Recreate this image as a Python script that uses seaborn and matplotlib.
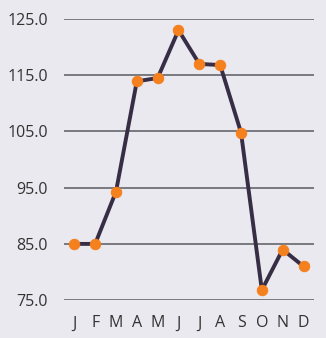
import matplotlib
matplotlib.use("Agg")
import matplotlib.pyplot as plt
import seaborn as sns
import pandas as pd
import numpy as np

months = ["J", "F", "M", "A", "M", "J", "J", "A", "S", "O", "N", "D"]
values = [85.0, 85.0, 94.3, 113.9, 114.5, 123.0, 117.0, 116.8, 104.8, 76.8, 84.0, 81.0]
yticks = [75.0, 85.0, 95.0, 105.0, 115.0, 125.0]

sns.set_style("white")
plt.rcParams['font.family'] = ['Open Sans', 'DejaVu Sans']

bg = "#e9e9ef"
fig = plt.figure(figsize=(3.26, 3.38), dpi=100, facecolor=bg)
ax = fig.add_axes([0.196, 0.112, 0.767, 0.832], facecolor=bg)

df = pd.DataFrame({"idx": np.arange(len(months)), "value": values})
sns.lineplot(data=df, x="idx", y="value", ax=ax, color="#372d45", linewidth=2.8,
             marker="o", markersize=7.5, markerfacecolor="#f5801e",
             markeredgecolor="#f5801e", sort=False, zorder=3, clip_on=False)

ax.set_xlim(-0.5, len(months) - 0.5)
ax.set_ylim(75, 125)
ax.set_yticks(yticks)
ax.set_yticklabels([f"{v:.1f}" for v in yticks])
ax.set_xticks(np.arange(len(months)))
ax.set_xticklabels(months)
for y in yticks:
    ax.axhline(y, color="#5a5a62", linewidth=1.1, zorder=1)
for s in ax.spines.values():
    s.set_visible(False)
ax.tick_params(axis="both", length=0, labelsize=11.5, colors="#333333")
ax.tick_params(axis="y", pad=11.5)
ax.tick_params(axis="x", pad=11)
ax.set_xlabel("")
ax.set_ylabel("")

fig.savefig("out.png", dpi=100, facecolor=bg)
